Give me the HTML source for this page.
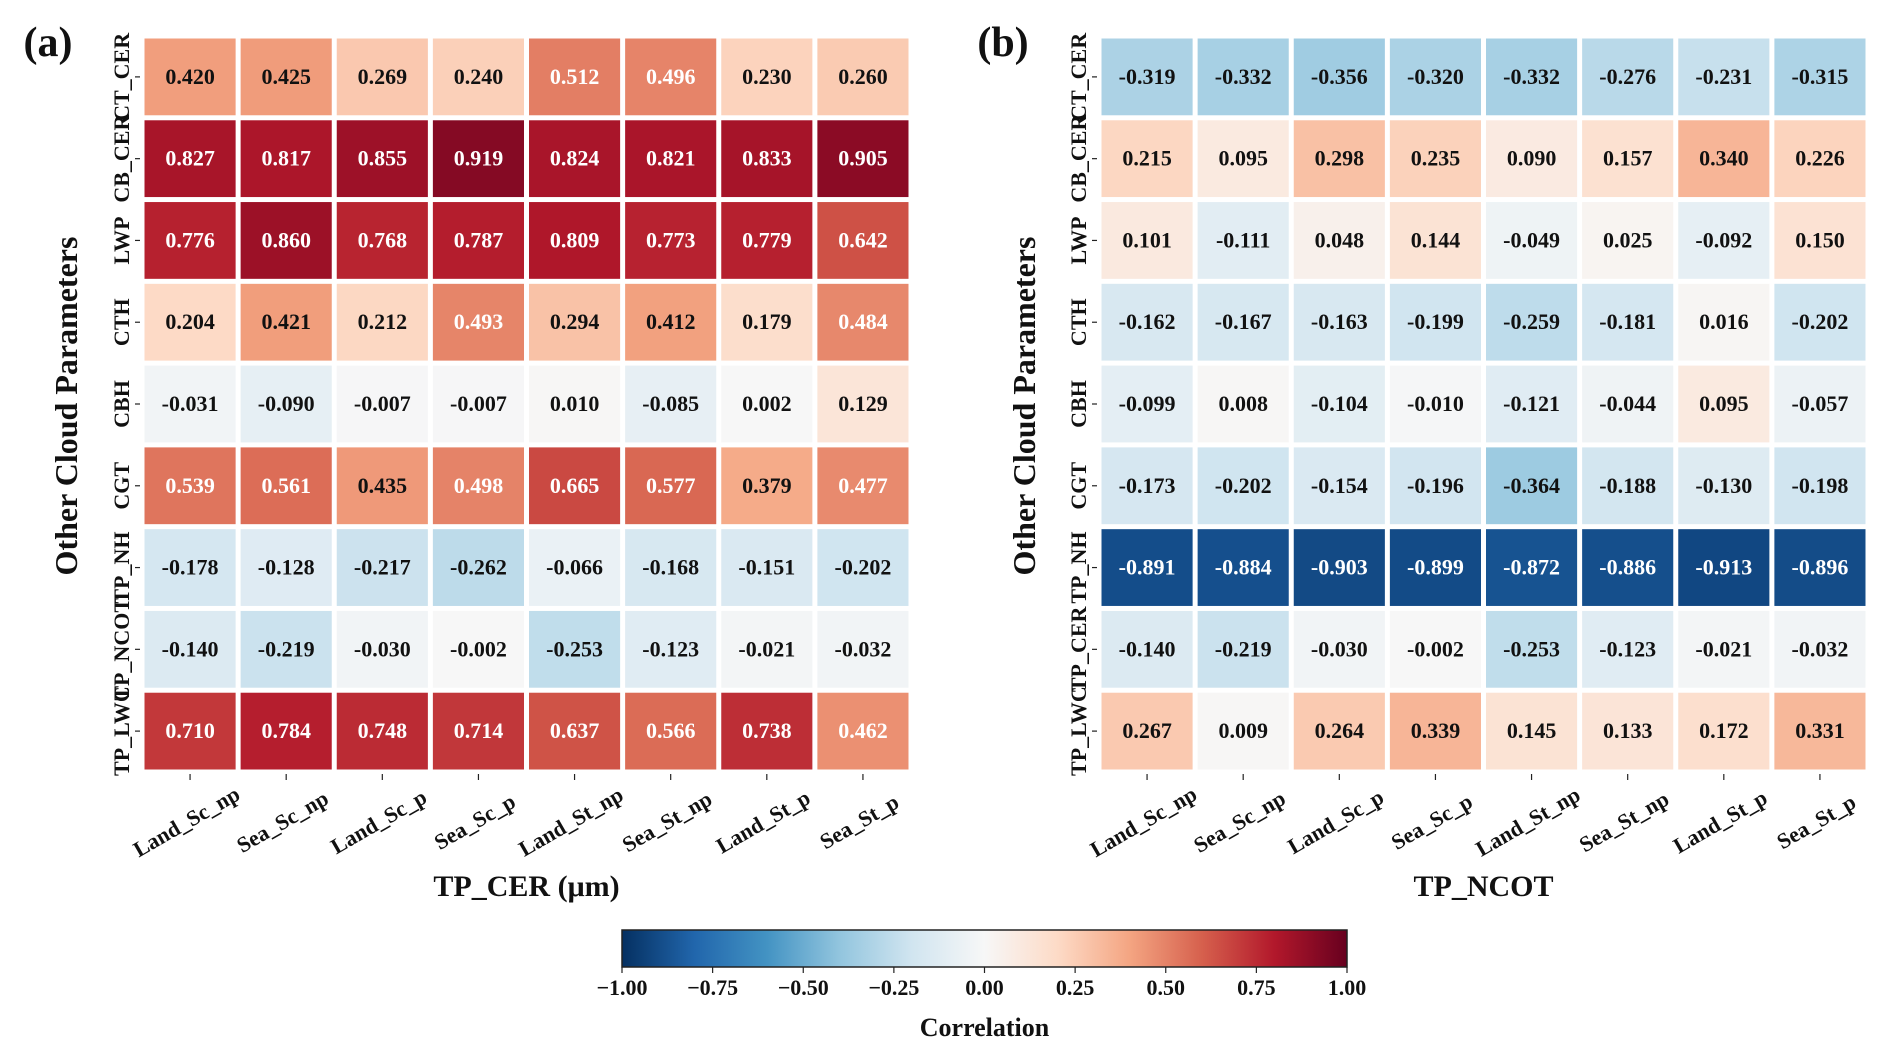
<!DOCTYPE html>
<html><head><meta charset="utf-8">
<style>
html,body{margin:0;padding:0;background:#fff;}
svg{display:block;font-family:"Liberation Serif",serif;}
</style></head>
<body>
<svg id="chart" width="1892" height="1057" viewBox="0 0 1892 1057" xmlns="http://www.w3.org/2000/svg">
<defs>
<linearGradient id="cbgrad" x1="0" x2="1" y1="0" y2="0">
<stop offset="0" stop-color="#053061"/><stop offset="0.1" stop-color="#2166ac"/><stop offset="0.2" stop-color="#4393c3"/><stop offset="0.3" stop-color="#92c5de"/><stop offset="0.4" stop-color="#d1e5f0"/><stop offset="0.5" stop-color="#f7f7f7"/><stop offset="0.6" stop-color="#fddbc7"/><stop offset="0.7" stop-color="#f4a582"/><stop offset="0.8" stop-color="#d6604d"/><stop offset="0.9" stop-color="#b2182b"/><stop offset="1" stop-color="#67001f"/>
</linearGradient>
</defs>
<g id="root"></g>
</svg>
<script>
const categories = ["Land_Sc_np","Sea_Sc_np","Land_Sc_p","Sea_Sc_p","Land_St_np","Sea_St_np","Land_St_p","Sea_St_p"];
const rowsA = ["CT_CER","CB_CER","LWP","CTH","CBH","CGT","TP_NH","TP_NCOT","TP_LWC"];
const rowsB = ["CT_CER","CB_CER","LWP","CTH","CBH","CGT","TP_NH","TP_CER","TP_LWC"];
const valuesA = [
[0.420,0.425,0.269,0.240,0.512,0.496,0.230,0.260],
[0.827,0.817,0.855,0.919,0.824,0.821,0.833,0.905],
[0.776,0.860,0.768,0.787,0.809,0.773,0.779,0.642],
[0.204,0.421,0.212,0.493,0.294,0.412,0.179,0.484],
[-0.031,-0.090,-0.007,-0.007,0.010,-0.085,0.002,0.129],
[0.539,0.561,0.435,0.498,0.665,0.577,0.379,0.477],
[-0.178,-0.128,-0.217,-0.262,-0.066,-0.168,-0.151,-0.202],
[-0.140,-0.219,-0.030,-0.002,-0.253,-0.123,-0.021,-0.032],
[0.710,0.784,0.748,0.714,0.637,0.566,0.738,0.462]];
const valuesB = [
[-0.319,-0.332,-0.356,-0.320,-0.332,-0.276,-0.231,-0.315],
[0.215,0.095,0.298,0.235,0.090,0.157,0.340,0.226],
[0.101,-0.111,0.048,0.144,-0.049,0.025,-0.092,0.150],
[-0.162,-0.167,-0.163,-0.199,-0.259,-0.181,0.016,-0.202],
[-0.099,0.008,-0.104,-0.010,-0.121,-0.044,0.095,-0.057],
[-0.173,-0.202,-0.154,-0.196,-0.364,-0.188,-0.130,-0.198],
[-0.891,-0.884,-0.903,-0.899,-0.872,-0.886,-0.913,-0.896],
[-0.140,-0.219,-0.030,-0.002,-0.253,-0.123,-0.021,-0.032],
[0.267,0.009,0.264,0.339,0.145,0.133,0.172,0.331]];
const cbTicks = [-1.00,-0.75,-0.50,-0.25,0.00,0.25,0.50,0.75,1.00];

const stops = ["#053061","#2166ac","#4393c3","#92c5de","#d1e5f0","#f7f7f7","#fddbc7","#f4a582","#d6604d","#b2182b","#67001f"];
function hex(h){return [parseInt(h.slice(1,3),16),parseInt(h.slice(3,5),16),parseInt(h.slice(5,7),16)];}
function cmap(v){
  let t=(Math.max(-1,Math.min(1,v))+1)/2*10;
  let i=Math.min(9,Math.floor(t)), f=t-i;
  const a=hex(stops[i]), b=hex(stops[i+1]);
  return "rgb("+a.map((c,k)=>Math.round(c+(b[k]-c)*f)).join(",")+")";
}
const NS="http://www.w3.org/2000/svg";
const root=document.getElementById("root");
function mk(tag,attrs,parent){const e=document.createElementNS(NS,tag);for(const k in attrs)e.setAttribute(k,attrs[k]);(parent||root).appendChild(e);return e;}

function drawPanel(id,x0,rows,vals,xtitle,ytitle,tag,tagX,ytitleX){
  const g=mk("g",{});
  
  
  const y0=36, W=769, H=736, cw=W/categories.length, ch=H/rows.length, gap=5;
  const xs=i=>x0+i*cw, ys=j=>y0+j*ch;
  rows.forEach((r,j)=>{
    categories.forEach((c,i)=>{
      const v=vals[j][i];
      const rect=mk("rect",{x:xs(i)+gap/2,y:ys(j)+gap/2,width:cw-gap,height:ch-gap,fill:cmap(v)},g);
      
      
      const t=mk("text",{x:xs(i)+cw/2,y:ys(j)+ch/2+7,"text-anchor":"middle","font-size":"22","font-weight":"bold",fill:Math.abs(v)>0.45?"#fff":"#111"},g);
      t.textContent=v.toFixed(3);
      
      
    });
    const cy=ys(j)+ch/2;
    mk("line",{x1:x0-7,x2:x0-2,y1:cy,y2:cy,stroke:"#222","stroke-width":1.2},g);
    const rl=mk("text",{x:0,y:0,transform:`translate(${x0-13},${cy}) rotate(-90)`,"text-anchor":"middle","font-size":"22","font-weight":"bold",fill:"#111"},g);
    rl.textContent=r;
    
    
  });
  categories.forEach((c,i)=>{
    const cx=xs(i)+cw/2;
    mk("line",{x1:cx,x2:cx,y1:y0+H+2,y2:y0+H+8,stroke:"#222","stroke-width":1.2},g);
    const tl=mk("text",{x:0,y:0,transform:`translate(${cx},${828}) rotate(-30)`,"text-anchor":"middle","font-size":"22","font-weight":"bold",fill:"#111"},g);
    tl.textContent=c;
    
    
  });
  const xt=mk("text",{x:x0+W/2,y:896,"text-anchor":"middle","font-size":"30","font-weight":"bold",fill:"#111"},g);
  xt.textContent=xtitle;
  
  
  const yt=mk("text",{x:0,y:0,transform:`translate(${ytitleX},406) rotate(-90)`,"text-anchor":"middle","font-size":"32","font-weight":"bold",fill:"#111"},g);
  yt.textContent=ytitle;
  
  
  const tg=mk("text",{x:tagX,y:56,"text-anchor":"middle","font-size":"42","font-weight":"bold",fill:"#111"},g);
  tg.textContent=tag;
  
  
}
drawPanel("a",142,rowsA,valuesA,"TP_CER (μm)","Other Cloud Parameters","(a)",48,77);
drawPanel("b",1099,rowsB,valuesB,"TP_NCOT","Other Cloud Parameters","(b)",1003,1035);

// colorbar
const cbx0=622, cbx1=1347, cby=930, cbh=37;
const cbs=v=>cbx0+(v+1)/2*(cbx1-cbx0);
const cb=mk("g",{});


const cr=mk("rect",{x:cbx0,y:cby,width:cbx1-cbx0,height:cbh,fill:"url(#cbgrad)",stroke:"#222","stroke-width":1.5},cb);


cbTicks.forEach(v=>{
  const x=cbs(v);
  mk("line",{x1:x,x2:x,y1:cby+cbh,y2:cby+cbh+6,stroke:"#222","stroke-width":1.2},cb);
  const t=mk("text",{x:x,y:995,"text-anchor":"middle","font-size":"22","font-weight":"bold",fill:"#111"},cb);
  t.textContent=(v<0?"\u2212":"")+Math.abs(v).toFixed(2);
  
  
});
const ct=mk("text",{x:(cbx0+cbx1)/2,y:1036,"text-anchor":"middle","font-size":"26","font-weight":"bold",fill:"#111"},cb);
ct.textContent="Correlation";


</script>
</body></html>
